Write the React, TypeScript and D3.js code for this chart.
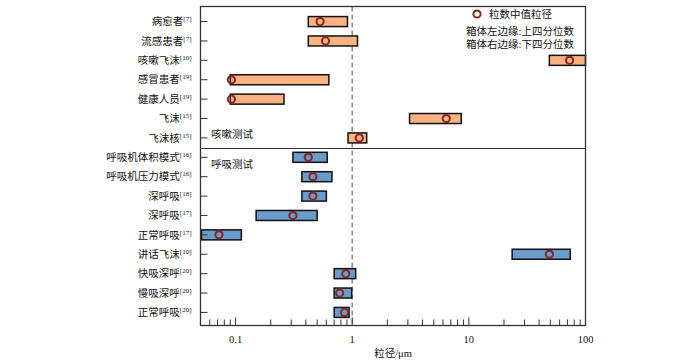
import React from 'react';
import * as d3 from 'd3';

// rows, top to bottom
const rowLabels = ['病愈者', '流感患者', '咳嗽飞沫', '感冒患者', '健康人员', '飞沫', '飞沫核',
  '呼吸机体积模式', '呼吸机压力模式', '深呼吸', '深呼吸', '正常呼吸', '讲话飞沫', '快吸深呼', '慢吸深呼', '正常呼吸'];
const rowRefs = [7, 7, 10, 19, 19, 15, 15, 16, 16, 18, 17, 17, 10, 20, 20, 20];
const rowGroups = ['cough', 'cough', 'cough', 'cough', 'cough', 'cough', 'cough',
  'breath', 'breath', 'breath', 'breath', 'breath', 'breath', 'breath', 'breath', 'breath'];
// box edges and median (μm)
const boxLeft = [0.42, 0.42, 49, 0.09, 0.09, 3.1, 0.92, 0.31, 0.37, 0.37, 0.15, 0.051, 23.5, 0.70, 0.70, 0.70];
const boxRight = [0.91, 1.11, 100, 0.63, 0.26, 8.6, 1.33, 0.61, 0.67, 0.60, 0.50, 0.112, 74, 1.07, 0.99, 0.94];
const medians = [0.53, 0.59, 73, 0.092, 0.092, 6.4, 1.15, 0.42, 0.46, 0.46, 0.31, 0.072, 49, 0.88, 0.78, 0.86];

const xDomain = [0.05, 100];
const xTickLabels = ['0.1', '1', '10', '100'];
const refLine = 1;

const legendMedian = '粒数中值粒径';
const legendLines = ['箱体左边缘:上四分位数', '箱体右边缘:下四分位数'];
const groupTitles = { cough: '咳嗽测试', breath: '呼吸测试' };
const xTitle = '粒径/μm';

const W = 700;
const H = 362;
const left = 200.5;
const right = 585.5;
const top = 6.5;
const bottom = 325.5;

const fillColor = { cough: '#f9b382', breath: '#6a9bcb' };
const medianColor = '#8b2222';
const font = "'Liberation Serif', 'Noto Sans CJK SC', serif";

export default function App() {
  const x = d3.scaleLog().domain(xDomain).range([left, right]);
  const idx = rowLabels.map((_, i) => i);
  const y = d3.scalePoint<number>().domain(idx).range([top + 1.5, bottom + 0.5]).padding(0.7);
  const ticks = x.ticks();
  const isMajor = (t: number) => Math.abs(Math.log10(t) - Math.round(Math.log10(t))) < 1e-6;
  const divider = Math.round(((y(6) as number) + (y(7) as number)) / 2) + 0.5;
  const boxH = 10;

  return (
    <svg width={W} height={H} style={{ position: 'absolute', left: 0, top: 0 }} fontFamily={font}>
      <rect width={W} height={H} fill="#fff" />

      {/* reference line at 1 μm */}
      <line x1={x(refLine)} x2={x(refLine)} y1={top} y2={bottom} stroke="#8a8a8a" strokeWidth={1.6} strokeDasharray="5,3" />

      {/* boxes */}
      {idx.map((i) => {
        const cy = y(i) as number;
        return (
          <g key={i}>
            <rect x={x(boxLeft[i])} y={cy - boxH / 2} width={x(boxRight[i]) - x(boxLeft[i])} height={boxH}
              fill={fillColor[rowGroups[i]]} stroke="#111" strokeWidth={1.5} />
            <circle cx={x(medians[i])} cy={cy} r={3.6} fill="none" stroke={medianColor} strokeWidth={2} />
          </g>
        );
      })}

      {/* frame */}
      <rect x={left} y={top} width={right - left} height={bottom - top} fill="none" stroke="#333" strokeWidth={1.3} />
      <line x1={left} x2={right} y1={divider} y2={divider} stroke="#333" strokeWidth={1.2} />

      {/* y ticks and labels */}
      {idx.map((i) => {
        const cy = y(i) as number;
        return (
          <g key={'l' + i}>
            <line x1={left} x2={left + 7} y1={cy} y2={cy} stroke="#333" strokeWidth={1} />
            <text x={left - 9} y={cy} dy="0.35em" textAnchor="end" fontSize={10.5} fill="#111">
              {rowLabels[i]}
              <tspan fontSize={7} dy={-4}>[{rowRefs[i]}]</tspan>
            </text>
          </g>
        );
      })}

      {/* x ticks */}
      {ticks.map((t, i) => (
        <line key={'t' + i} x1={x(t)} x2={x(t)} y1={bottom} y2={bottom - (isMajor(t) ? 8 : 6)} stroke="#333" strokeWidth={1} />
      ))}
      {xTickLabels.map((s) => (
        <text key={s} x={x(+s)} y={339} dy="0.35em" textAnchor="middle" fontSize={10.5} fill="#111">{s}</text>
      ))}
      <text x={(left + right) / 2} y={353} dy="0.35em" textAnchor="middle" fontSize={10.5} fill="#111">{xTitle}</text>

      {/* group titles */}
      <text x={211} y={134} dy="0.35em" fontSize={10.5} fill="#111">{groupTitles.cough}</text>
      <text x={211} y={164} dy="0.35em" fontSize={10.5} fill="#111">{groupTitles.breath}</text>

      {/* legend */}
      <circle cx={477} cy={14} r={3.6} fill="none" stroke={medianColor} strokeWidth={2} />
      <text x={489} y={14} dy="0.35em" fontSize={10.5} fill="#111">{legendMedian}</text>
      {legendLines.map((s, i) => (
        <text key={s} x={574} y={31 + i * 13.5} dy="0.35em" textAnchor="end" fontSize={10.5} fill="#111">{s}</text>
      ))}
    </svg>
  );
}
